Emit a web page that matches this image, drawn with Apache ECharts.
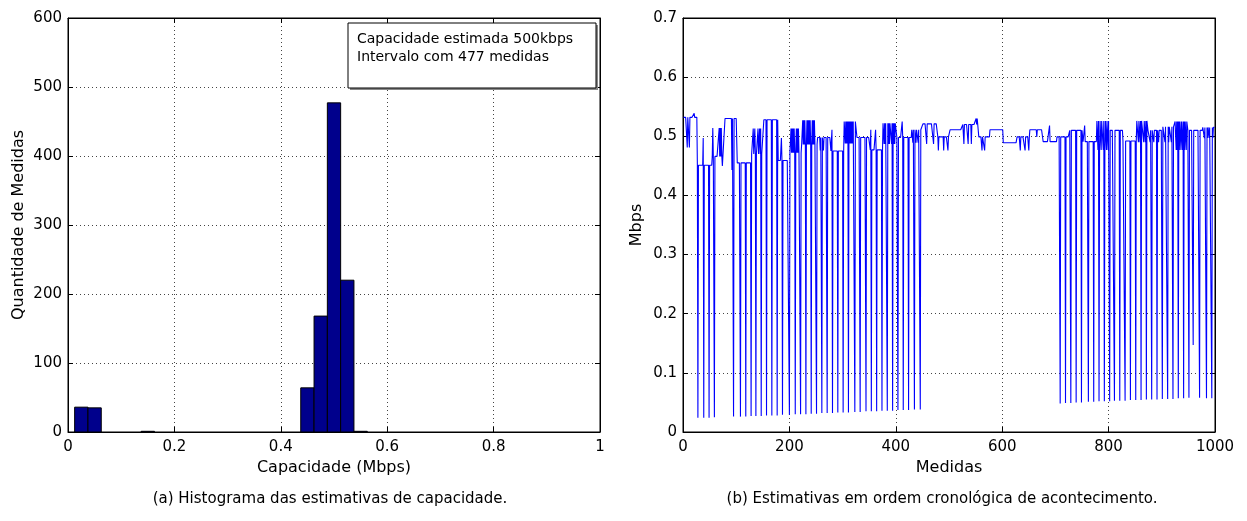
<!DOCTYPE html>
<html>
<head>
<meta charset="utf-8">
<script src="https://cdn.jsdelivr.net/npm/echarts@6/dist/echarts.min.js"></script>
<style>
html,body{margin:0;padding:0;background:#fff;}
#c{width:1247px;height:521px;}
</style>
</head>
<body>
<div id="c"></div>
<script>
// ---------- Histogram (a) ----------
const binCenters = [0.025, 0.05, 0.15, 0.45, 0.475, 0.5, 0.525, 0.55];
const binCounts  = [36, 35, 1, 64, 168, 477, 220, 1];
const binWidth = 0.025;
const histXTicks = [0, 0.2, 0.4, 0.6, 0.8, 1];
const histYTicks = [0, 100, 200, 300, 400, 500, 600];

// ---------- Time series (b) ----------
// baseline step levels: start measurement and level (Mbps)
const segStart = [1, 27, 55, 79, 102, 129, 152, 179, 201, 223, 253, 278, 303, 327, 352, 376, 402, 430, 451, 479, 502, 526, 556, 577, 602, 628, 652, 677, 703, 727, 752, 778, 803, 827, 853, 874, 902, 925, 949, 977];
const segLevel = [0.532, 0.451, 0.466, 0.530, 0.455, 0.470, 0.528, 0.459, 0.472, 0.486, 0.498, 0.475, 0.525, 0.498, 0.477, 0.522, 0.498, 0.511, 0.521, 0.499, 0.511, 0.520, 0.499, 0.511, 0.489, 0.499, 0.511, 0.491, 0.499, 0.510, 0.491, 0.526, 0.510, 0.492, 0.526, 0.510, 0.516, 0.525, 0.510, 0.515];
// short excursions from the baseline
const spikeIdx = [8, 12, 21, 38, 56, 68, 70, 72, 74, 92, 132, 135, 141, 144, 146, 185, 203, 205, 207, 209, 213, 215, 217, 225, 227, 229, 233, 235, 237, 239, 243, 245, 247, 258, 264, 280, 305, 307, 309, 313, 315, 317, 319, 353, 362, 378, 380, 386, 388, 392, 396, 398, 412, 432, 438, 442, 458, 471, 480, 490, 498, 528, 536, 542, 551, 553, 562, 567, 634, 643, 650, 665, 689, 755, 780, 783, 786, 790, 793, 796, 799, 856, 859, 866, 869, 878, 885, 894, 906, 913, 918, 927, 929, 933, 936, 939, 943, 946, 980, 986, 989, 996];
const spikeVal = [0.481, 0.481, 0.539, 0.497, 0.514, 0.514, 0.514, 0.514, 0.450, 0.443, 0.513, 0.513, 0.513, 0.513, 0.513, 0.497, 0.513, 0.513, 0.513, 0.513, 0.513, 0.513, 0.513, 0.527, 0.527, 0.527, 0.527, 0.527, 0.527, 0.527, 0.527, 0.527, 0.527, 0.476, 0.476, 0.511, 0.488, 0.488, 0.488, 0.488, 0.488, 0.488, 0.488, 0.511, 0.511, 0.487, 0.487, 0.487, 0.487, 0.487, 0.487, 0.487, 0.525, 0.489, 0.489, 0.489, 0.487, 0.487, 0.476, 0.476, 0.476, 0.487, 0.487, 0.487, 0.530, 0.530, 0.476, 0.476, 0.476, 0.476, 0.476, 0.499, 0.518, 0.518, 0.477, 0.477, 0.477, 0.477, 0.477, 0.477, 0.477, 0.490, 0.490, 0.490, 0.490, 0.490, 0.490, 0.490, 0.490, 0.490, 0.490, 0.477, 0.477, 0.477, 0.477, 0.477, 0.477, 0.477, 0.497, 0.497, 0.497, 0.497];
// deep drops
const dipIdx = [28, 39, 49, 59, 95, 108, 118, 128, 137, 147, 157, 167, 177, 187, 200, 211, 221, 231, 241, 251, 261, 271, 281, 291, 301, 311, 323, 333, 344, 354, 364, 374, 384, 394, 404, 414, 424, 435, 446,
                709, 719, 729, 739, 749, 762, 772, 782, 792, 802, 811, 821, 831, 841, 851, 861, 871, 881, 891, 901, 911, 921, 931, 941, 951, 959, 971, 984, 994];
const dipVal = [0.024, 0.024, 0.024, 0.025, 0.026, 0.026, 0.026, 0.027, 0.027, 0.027, 0.028, 0.028, 0.028, 0.029, 0.029, 0.030, 0.030, 0.030, 0.031, 0.031, 0.032, 0.032, 0.032, 0.033, 0.033, 0.033, 0.034, 0.034, 0.035, 0.035, 0.035, 0.036, 0.036, 0.036, 0.037, 0.037, 0.037, 0.038, 0.038,
                0.048, 0.049, 0.049, 0.050, 0.050, 0.051, 0.051, 0.052, 0.052, 0.052, 0.053, 0.053, 0.053, 0.054, 0.054, 0.054, 0.055, 0.055, 0.055, 0.056, 0.056, 0.056, 0.057, 0.057, 0.058, 0.147, 0.058, 0.057, 0.057];
const nMeasures = 1000;
const seriesXTicks = [0, 200, 400, 600, 800, 1000];
const seriesYTicks = [0, 0.1, 0.2, 0.3, 0.4, 0.5, 0.6, 0.7];

// assemble series from the read values
const pts = [];
{
  const over = {};
  spikeIdx.forEach((m, i) => over[m] = spikeVal[i]);
  dipIdx.forEach((m, i) => over[m] = dipVal[i]);
  let s = 0;
  for (let m = 1; m <= nMeasures; m++) {
    while (s + 1 < segStart.length && segStart[s + 1] <= m) s++;
    pts.push([m, over[m] !== undefined ? over[m] : segLevel[s]]);
  }
}

const FONT = '"DejaVu Sans", Verdana, sans-serif';
const gridLine = {show: true, lineStyle: {color: '#444', type: [1, 3], width: 1}};
const axLine = {show: true, onZero: false, lineStyle: {color: '#000', width: 1}};
const axTick = {show: true, inside: true, length: 5, lineStyle: {color: '#000'}};
const lbl = {color: '#000', fontSize: 15, fontFamily: FONT};
const nameStyle = {color: '#000', fontSize: 16, fontFamily: FONT};

function fmt(v) { return String(Math.round(v * 10) / 10); }
function plain(v) { return String(v); }

const chart = echarts.init(document.getElementById('c'), null, {renderer: 'canvas'});
const option = {
  animation: false,
  backgroundColor: '#fff',
  grid: [
    {left: 68, top: 18, width: 532, height: 414, show: true, borderColor: '#000', borderWidth: 1},
    {left: 683, top: 18, width: 532, height: 414, show: true, borderColor: '#000', borderWidth: 1}
  ],
  xAxis: [
    {type: 'value', gridIndex: 0, min: histXTicks[0], max: histXTicks[histXTicks.length - 1], interval: 0.2,
     axisLine: axLine, axisTick: axTick, splitLine: gridLine,
     axisLabel: Object.assign({}, lbl, {margin: 8, formatter: fmt}),
     name: 'Capacidade (Mbps)', nameLocation: 'middle', nameGap: 28, nameTextStyle: nameStyle},
    {type: 'value', gridIndex: 0, position: 'top', min: 0, max: 1, interval: 0.2,
     axisLine: axLine, axisTick: axTick, splitLine: {show: false}, axisLabel: {show: false}},
    {type: 'value', gridIndex: 1, min: seriesXTicks[0], max: seriesXTicks[seriesXTicks.length - 1], interval: 200,
     axisLine: axLine, axisTick: axTick, splitLine: gridLine,
     axisLabel: Object.assign({}, lbl, {margin: 8, formatter: plain}),
     name: 'Medidas', nameLocation: 'middle', nameGap: 28, nameTextStyle: nameStyle},
    {type: 'value', gridIndex: 1, position: 'top', min: 0, max: 1000, interval: 200,
     axisLine: axLine, axisTick: axTick, splitLine: {show: false}, axisLabel: {show: false}}
  ],
  yAxis: [
    {type: 'value', gridIndex: 0, min: histYTicks[0], max: histYTicks[histYTicks.length - 1], interval: 100,
     axisLine: axLine, axisTick: axTick, splitLine: gridLine,
     axisLabel: Object.assign({}, lbl, {margin: 6, formatter: plain}),
     name: 'Quantidade de Medidas', nameLocation: 'middle', nameGap: 41, nameTextStyle: nameStyle},
    {type: 'value', gridIndex: 0, position: 'right', min: 0, max: 600, interval: 100,
     axisLine: axLine, axisTick: axTick, splitLine: {show: false}, axisLabel: {show: false}},
    {type: 'value', gridIndex: 1, min: seriesYTicks[0], max: seriesYTicks[seriesYTicks.length - 1], interval: 0.1,
     axisLine: axLine, axisTick: axTick, splitLine: gridLine,
     axisLabel: Object.assign({}, lbl, {margin: 6, formatter: fmt}),
     name: 'Mbps', nameLocation: 'middle', nameGap: 38, nameTextStyle: nameStyle},
    {type: 'value', gridIndex: 1, position: 'right', min: 0, max: 0.7, interval: 0.1,
     axisLine: axLine, axisTick: axTick, splitLine: {show: false}, axisLabel: {show: false}}
  ],
  series: [
    {
      type: 'custom', xAxisIndex: 0, yAxisIndex: 0, clip: true,
      data: binCenters.map((c, i) => [c, binCounts[i]]),
      renderItem: function (params, api) {
        const c = api.value(0), h = api.value(1);
        const p0 = api.coord([c - binWidth / 2, h]);
        const p1 = api.coord([c + binWidth / 2, 0]);
        return {type: 'rect', shape: {x: p0[0], y: p0[1], width: p1[0] - p0[0], height: p1[1] - p0[1]},
                style: {fill: '#00008c', stroke: '#000', lineWidth: 1}};
      }
    },
    {
      type: 'line', xAxisIndex: 2, yAxisIndex: 2, data: pts, showSymbol: false, symbol: 'none',
      lineStyle: {color: '#0000ff', width: 1.1}, sampling: null, silent: true
    }
  ],
  graphic: [
    {type: 'rect', shape: {x: 350, y: 25, width: 248, height: 65}, style: {fill: '#888', stroke: null}, z: 10},
    {type: 'rect', shape: {x: 348, y: 23, width: 248, height: 65}, style: {fill: '#fff', stroke: '#000', lineWidth: 1}, z: 11},
    {type: 'text', x: 357, y: 39, z: 12, style: {text: 'Capacidade estimada 500kbps', font: '14px ' + FONT, fill: '#000', textVerticalAlign: 'middle'}},
    {type: 'text', x: 357, y: 57, z: 12, style: {text: 'Intervalo com 477 medidas', font: '14px ' + FONT, fill: '#000', textVerticalAlign: 'middle'}},
    {type: 'text', x: 330, y: 499, z: 12, style: {text: '(a) Histograma das estimativas de capacidade.', font: '15px ' + FONT, fill: '#000', textAlign: 'center', textVerticalAlign: 'middle'}},
    {type: 'text', x: 942, y: 499, z: 12, style: {text: '(b) Estimativas em ordem cronológica de acontecimento.', font: '15px ' + FONT, fill: '#000', textAlign: 'center', textVerticalAlign: 'middle'}}
  ]
};
chart.setOption(option);
</script>
</body>
</html>
